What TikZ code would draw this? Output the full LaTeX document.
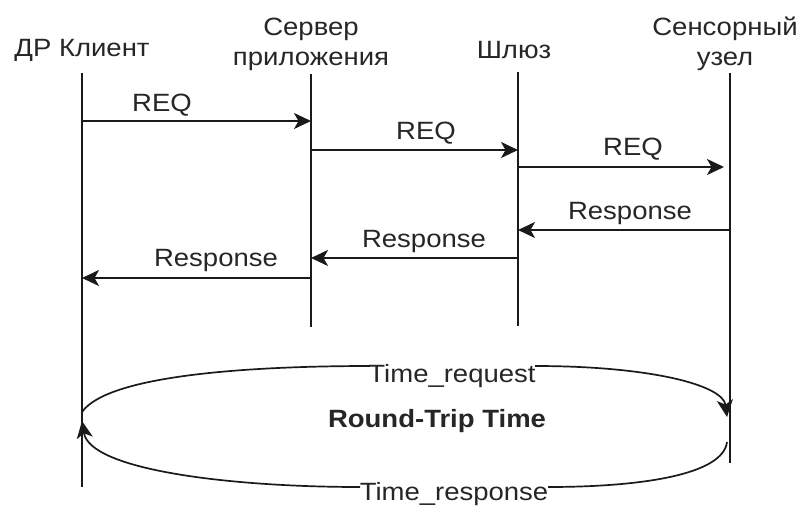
\documentclass[tikz,border=0pt]{standalone}
\usepackage{fontspec}
\setmainfont[FakeStretch=1.1]{Liberation Sans}
\usetikzlibrary{arrows.meta}
\definecolor{ink}{HTML}{1A1A1A}
\definecolor{txt}{HTML}{262626}
\tikzset{
  lifeline/.style={draw=ink, line width=2pt},
  msg/.style={draw=ink, line width=2pt, -{Stealth[length=17pt,width=16pt,inset=4.5pt]}},
  curve/.style={draw=ink, line width=1.7pt},
  curvemsg/.style={curve, -{Stealth[length=17pt,width=16pt,inset=4.5pt]}},
  label/.style={text=txt, inner sep=0pt, anchor=base, font=\fontsize{25}{30}\selectfont},
  head/.style={label, align=center},
}
\begin{document}
\begin{tikzpicture}[x=1pt, y=-1pt]
  \useasboundingbox (0,0) rectangle (799,506);

  % participant headers
  \node[head] (hclient) at (82,56) {ДР Клиент};
  \node[head] (hserver) at (311,65) {Сервер\\приложения};
  \node[head] (hgate)   at (514,58) {Шлюз};
  \node[head] (hsensor) at (725,65) {Сенсорный\\узел};

  % lifelines
  \coordinate (c-top) at (82,73);   \coordinate (c-bot) at (82,487);
  \coordinate (a-top) at (311,74);  \coordinate (a-bot) at (311,327);
  \coordinate (g-top) at (518,72);  \coordinate (g-bot) at (518,326);
  \coordinate (s-top) at (730,73);  \coordinate (s-bot) at (730,463);
  \draw[lifeline] (c-top) -- (c-bot);
  \draw[lifeline] (a-top) -- (a-bot);
  \draw[lifeline] (g-top) -- (g-bot);
  \draw[lifeline] (s-top) -- (s-bot);

  % requests
  \coordinate (r1a) at (82,121);  \coordinate (r1b) at (311,121);
  \coordinate (r2a) at (311,150); \coordinate (r2b) at (518,150);
  \coordinate (r3a) at (518,167); \coordinate (r3b) at (724,167);
  \draw[msg] (r1a) -- (r1b);
  \draw[msg] (r2a) -- (r2b);
  \draw[msg] (r3a) -- (r3b);
  \node[label] (l1) at (162,111) {REQ};
  \node[label] (l2) at (426,139) {REQ};
  \node[label] (l3) at (633,155) {REQ};

  % responses
  \coordinate (p1a) at (730,230); \coordinate (p1b) at (518,230);
  \coordinate (p2a) at (518,258); \coordinate (p2b) at (311,258);
  \coordinate (p3a) at (311,278); \coordinate (p3b) at (82,278);
  \draw[msg] (p1a) -- (p1b);
  \draw[msg] (p2a) -- (p2b);
  \draw[msg] (p3a) -- (p3b);
  \node[label] (m1) at (630,219) {Response};
  \node[label] (m2) at (424,247) {Response};
  \node[label] (m3) at (216,266) {Response};

  % round-trip loop
  \node[label] (treq) at (452,382) {Time\_request};
  \node[label] (tres) at (454,500) {Time\_response};
  \node[label, font=\fontsize{25}{30}\selectfont\bfseries] (rtt) at (437,427) {Round-Trip Time};

  \coordinate (c1) at (82,412);
  \coordinate (q1) at (370,366);
  \coordinate (q2) at (535,366);
  \coordinate (s1) at (727,417);
  \coordinate (s2) at (727,442);
  \coordinate (w1) at (548,487);
  \coordinate (w2) at (360,487);
  \coordinate (c2) at (82,421);

  \draw[curve] (c1) .. controls (108,375) and (250,366) .. (q1);
  \draw[curvemsg] (q2) .. controls (650,366) and (723,385) .. (s1);
  \draw[curve] (s2) .. controls (723,475) and (640,487) .. (w1);
  \draw[curvemsg] (w2) .. controls (230,487) and (90,470) .. (c2);
\end{tikzpicture}
\end{document}
